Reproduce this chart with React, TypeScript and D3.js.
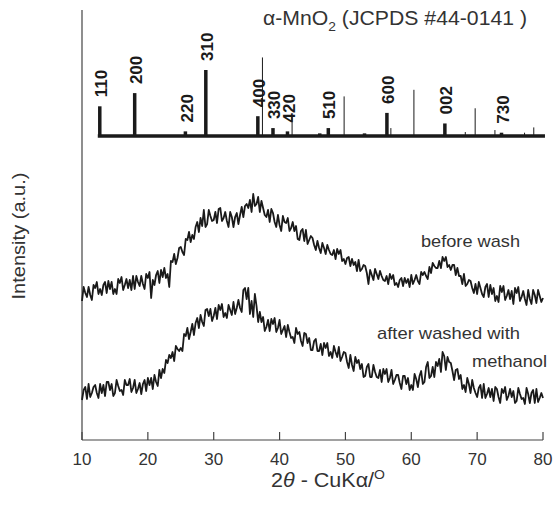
import React from "react";
import * as d3 from "d3";

// 2θ grid: 10° to 80°, values read every 0.25°
const thetaStart = 10;
const thetaEnd = 80;

const beforeWash = [
  139,153,147,143, 153,145,140,155, 152,158,146,151, 145,155,158,147,
  159,151,158,146, 151,146,161,157, 163,150,155,161, 152,160,150,164,
  151,164,158,154, 164,156,151,166, 162,168,142,160, 155,165,169,157,
  170,163,172,162, 166,153,179,178, 186,176,182,192, 193,188,185,201,
  200,208,198,205, 201,213,218,208, 222,214,230,213, 216,230,224,219,
  220,228,217,231, 232,219,222,228, 219,213,228,223, 213,223,227,216,
  225,233,223,234, 236,232,240,228, 246,234,236,243, 228,239,232,225,
  223,230,218,231, 227,218,213,225, 215,209,224,218, 217,222,209,212,
  218,209,214,201, 200,209,211,199, 210,196,200,204, 202,195,190,199,
  192,187,197,192, 186,195,190,186, 185,190,181,191, 186,190,179,181,
  176,182,183,174, 181,175,178,169, 180,169,171,175, 174,167,156,170,
  165,160,171,166, 161,169,164,160, 159,164,156,166, 161,165,155,157,
  153,160,162,154, 162,157,161,153, 165,156,160,165, 159,156,168,165,
  168,164,161,173, 167,177,174,172, 172,179,172,183, 179,183,173,175,
  170,175,175,165, 172,164,164,156, 166,154,156,160, 159,152,147,156,
  146,158,152,146, 143,153,156,143, 155,146,152,139, 144,138,154,148,
  154,140,144,150, 141,149,136,152, 147,153,139,143, 149,141,135,150,
  141,136,150,145, 137,150,144,138, 142,
];

const afterWashed = [
  40,50,53,41, 56,43,47,53, 55,47,42,56, 47,55,44,58,
  58,50,56,44, 47,60,54,49, 50,45,60,55, 55,61,48,52,
  60,47,51,57, 46,56,60,49, 62,55,62,51, 65,58,54,70,
  62,71,67,80, 77,85,82,88, 79,94,91,89, 92,89,106,104,
  112,101,108,116, 105,117,122,112, 125,118,114,130, 131,124,131,119,
  124,132,121,135, 130,136,123,127, 122,135,130,125, 138,126,132,140,
  132,128,150,152, 141,152,126,139, 123,146,134,118, 128,118,123,109,
  113,120,109,121, 116,122,108,112, 120,106,110,114, 103,115,108,102,
  103,97,112,106, 108,99,94,107, 106,97,102,90, 90,99,101,89,
  89,96,85,97, 92,97,84,88, 82,94,88,83, 93,79,83,88,
  87,78,72,85, 75,69,83,77, 80,71,76,63, 64,73,76,63,
  63,75,68,63, 62,70,58,71, 66,71,58,62, 70,56,60,65,
  65,57,51,64, 64,56,62,50, 55,50,66,61, 53,64,69,56,
  58,73,78,62, 64,73,63,78, 74,81,68,88, 84,70,83,78,
  77,69,60,70, 71,61,65,51, 55,48,62,56, 47,60,52,47,
  43,52,55,42, 56,42,46,52, 43,51,39,53, 51,43,37,51,
  47,53,40,44, 51,43,49,37, 39,52,46,41, 42,36,52,46,
  37,47,50,37, 51,38,42,47, 42,
];

// α-MnO2 reference (JCPDS #44-0141)
const refHkl = ["110", "200", "220", "310", "400", "330", "420", "510", "600", "002", "730"];
const refPos = [12.7, 18.0, 25.7, 28.8, 36.7, 39.0, 41.2, 47.4, 56.3, 65.1, 73.7];
const refInt = [45, 65, 7, 100, 30, 12, 7, 12, 35, 19, 5];
const refMinorPos = [46.1, 52.9];
const refMinorInt = [4, 4];
// thin reference lines
const thinPos = [37.4, 41.9, 49.8, 56.9, 60.4, 68.2, 69.7, 72.7, 77.2, 78.6];
const thinInt = [119, 29, 60, 12, 70, 6, 42, 9, 5, 13];

const xTicks = [10, 20, 30, 40, 50, 60, 70, 80];

const W = 559;
const H = 507;
const FONT = "'Liberation Sans', Arial, Helvetica, sans-serif";
const INK = "#1a1a1a";
const TEXT = "#333";

export default function App() {
  const x = d3.scaleLinear().domain([10, 80]).range([82, 543]);
  const y = d3.scaleLinear().domain([0, 430]).range([440, 10]);
  const ys = d3.scaleLinear().domain([0, 100]).range([136, 70]);

  const toPts = (vals: number[]) => {
    const step = (thetaEnd - thetaStart) / (vals.length - 1);
    return vals.map((v, i) => [thetaStart + i * step, v] as [number, number]);
  };
  const line = d3
    .line<[number, number]>()
    .x((d) => x(d[0]))
    .y((d) => y(d[1]));

  const baseY = ys(0);

  return (
    <svg
      width={W}
      height={H}
      viewBox={`0 0 ${W} ${H}`}
      style={{ position: "absolute", left: 0, top: 0, background: "#fff" }}
      fontFamily={FONT}
    >
      <rect width={W} height={H} fill="#fff" />
      {/* axes */}
      <line x1={x(10)} x2={x(10)} y1={10} y2={y(0)} stroke="#444" strokeWidth={1.2} />
      <line x1={x(10)} x2={x(80)} y1={y(0)} y2={y(0)} stroke="#444" strokeWidth={1.2} />
      {xTicks.map((t) => (
        <g key={t}>
          <line x1={x(t)} x2={x(t)} y1={y(0)} y2={y(0) - 8} stroke="#444" strokeWidth={1.2} />
          <text x={x(t)} y={465} textAnchor="middle" fontSize={17} fill={TEXT}>
            {t}
          </text>
        </g>
      ))}
      <text x={271} y={487} fontSize={20} fill={TEXT} textLength={114} lengthAdjust="spacingAndGlyphs">
        2<tspan fontStyle="italic">θ</tspan> - CuKα/
        <tspan dy={-8} fontSize={13}>O</tspan>
      </text>
      <text
        transform={`translate(19,236) rotate(-90)`}
        textAnchor="middle"
        dy="0.35em"
        fontSize={18}
        fill={TEXT}
        textLength={127}
        lengthAdjust="spacingAndGlyphs"
      >
        Intensity (a.u.)
      </text>

      {/* title */}
      <text x={263} y={25} fontSize={20} fill={TEXT} textLength={264} lengthAdjust="spacingAndGlyphs">
        α-MnO<tspan dy={6} fontSize={13}>2</tspan>
        <tspan dy={-6}> (JCPDS #44-0141 )</tspan>
      </text>

      {/* reference stick pattern */}
      {thinPos.map((p, i) => (
        <line key={"t" + i} x1={x(p)} x2={x(p)} y1={baseY} y2={ys(thinInt[i])} stroke={INK} strokeWidth={1} />
      ))}
      <line x1={x(12.7) - 2} x2={x(80.3)} y1={baseY} y2={baseY} stroke={INK} strokeWidth={3.5} />
      {refPos.map((p, i) => (
        <line key={"r" + i} x1={x(p)} x2={x(p)} y1={baseY} y2={ys(refInt[i])} stroke={INK} strokeWidth={3.5} />
      ))}
      {refMinorPos.map((p, i) => (
        <line key={"m" + i} x1={x(p)} x2={x(p)} y1={baseY} y2={ys(refMinorInt[i])} stroke={INK} strokeWidth={3.5} />
      ))}
      {refPos.map((p, i) => (
        <text
          key={"l" + i}
          transform={`translate(${x(p) + 1},${ys(refInt[i]) - 9}) rotate(-90)`}
          dy="0.36em"
          fontSize={17}
          fontWeight="bold"
          fill={INK}
        >
          {refHkl[i]}
        </text>
      ))}

      {/* measured patterns */}
      <path d={line(toPts(beforeWash)) || ""} fill="none" stroke={INK} strokeWidth={1.8} strokeLinejoin="round" />
      <path d={line(toPts(afterWashed)) || ""} fill="none" stroke={INK} strokeWidth={1.8} strokeLinejoin="round" />

      <text x={421} y={247} fontSize={17} fill={TEXT} textLength={99} lengthAdjust="spacingAndGlyphs">
        before wash
      </text>
      <text x={377} y={339} fontSize={17} fill={TEXT} textLength={143} lengthAdjust="spacingAndGlyphs">
        after washed with
      </text>
      <text x={472} y={367} fontSize={17} fill={TEXT} textLength={75} lengthAdjust="spacingAndGlyphs">
        methanol
      </text>
    </svg>
  );
}
